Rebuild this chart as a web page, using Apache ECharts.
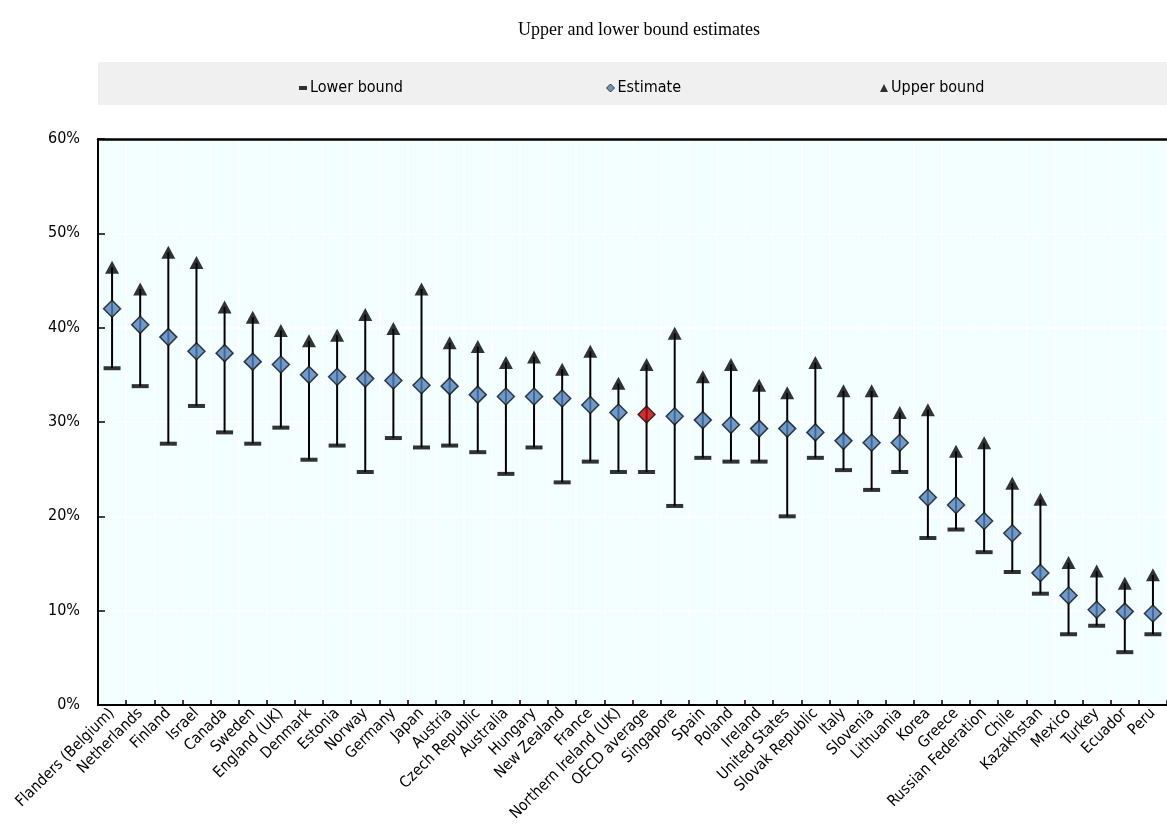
<!DOCTYPE html>
<html>
<head>
<meta charset="utf-8">
<script src="https://cdn.jsdelivr.net/npm/echarts@6/dist/echarts.min.js"></script>
<style>
html,body{margin:0;padding:0;background:#fff;}
#chart{width:1167px;height:832px;}
</style>
</head>
<body>
<div id="chart"></div>
<script>
const categories = ["Flanders (Belgium)","Netherlands","Finland","Israel","Canada","Sweden","England (UK)","Denmark","Estonia","Norway","Germany","Japan","Austria","Czech Republic","Australia","Hungary","New Zealand","France","Northern Ireland (UK)","OECD average","Singapore","Spain","Poland","Ireland","United States","Slovak Republic","Italy","Slovenia","Lithuania","Korea","Greece","Russian Federation","Chile","Kazakhstan","Mexico","Turkey","Ecuador","Peru"];
const estimate = [42.0,40.3,39.0,37.5,37.3,36.4,36.1,35.0,34.8,34.6,34.4,33.9,33.8,32.9,32.7,32.7,32.5,31.8,31.0,30.8,30.6,30.2,29.7,29.3,29.3,28.9,28.0,27.8,27.8,22.0,21.2,19.5,18.2,14.0,11.6,10.1,9.9,9.7];
const lowerBound = [35.7,33.8,27.7,31.7,28.9,27.7,29.4,26.0,27.5,24.7,28.3,27.3,27.5,26.8,24.5,27.3,23.6,25.8,24.7,24.7,21.1,26.2,25.8,25.8,20.0,26.2,24.9,22.8,24.7,17.7,18.6,16.2,14.1,11.8,7.5,8.4,5.6,7.5];
const upperBound = [46.4,44.1,48.0,46.9,42.2,41.1,39.7,38.6,39.2,41.4,39.9,44.1,38.4,38.0,36.3,36.9,35.6,37.5,34.1,36.1,39.4,34.8,36.1,33.9,33.1,36.3,33.3,33.3,31.0,31.3,26.9,27.8,23.5,21.8,15.1,14.2,12.9,13.8];
const highlight = "OECD average";

const FONT = "'Liberation Sans Narrow','Arial Narrow','DejaVu Sans Condensed',sans-serif";

const chart = echarts.init(document.getElementById('chart'), null, {renderer:'canvas'});

const estData = estimate.map((v,i)=>({
  value:[i,v],
  itemStyle: categories[i]===highlight ? {color:'#C00000'} : undefined
}));

const legendText = {fontFamily:FONT,fontSize:16,color:'#000',padding:[0,0,0,-2]};

const option = {
  animation:false,
  backgroundColor:'#fff',
  title:{
    text:'Upper and lower bound estimates',
    left:513, top:16,
    textStyle:{fontFamily:"'Liberation Serif','Times New Roman',serif",fontSize:18,fontWeight:'normal',color:'#000'}
  },
  graphic:[{
    type:'rect', left:98, top:62, z:-1,
    shape:{width:1069,height:43},
    style:{fill:'#F0F0F0'}
  }],
  legend:[
    {data:[{name:'Lower bound',icon:'rect',itemStyle:{color:'#000'}}],left:294,top:75,itemWidth:8,itemHeight:4,itemGap:4,textStyle:legendText},
    {data:[{name:'Estimate',icon:'diamond',itemStyle:{color:'#4F81BD',borderColor:'#111',borderWidth:1}}],left:601,top:75,itemWidth:8,itemHeight:8,textStyle:legendText},
    {data:[{name:'Upper bound',icon:'triangle',itemStyle:{color:'#000'}}],left:875,top:75,itemWidth:8,itemHeight:8,textStyle:legendText}
  ],
  grid:{
    left:98, top:139, width:1072, height:566,
    show:true, backgroundColor:'#F3FFFF', borderWidth:0
  },
  xAxis:[{
    type:'category', data:categories, boundaryGap:true,
    axisLine:{show:false},
    axisTick:{show:false,interval:0},
    axisLabel:{rotate:45,interval:0,fontFamily:FONT,fontSize:15.5,color:'#000',margin:6},
    splitLine:{show:true,interval:0,lineStyle:{color:'#FFFFFF',width:1.5}},
    z:0
  },{
    type:'category', data:categories, position:'bottom', boundaryGap:true,
    axisLine:{show:true,lineStyle:{color:'#000',width:2}},
    axisTick:{show:true,inside:true,interval:0,length:5,lineStyle:{color:'#000',width:1.5}},
    axisLabel:{show:false,interval:0}, splitLine:{show:false},
    z:10
  },{
    type:'category', data:categories, position:'top',
    axisLine:{show:true,lineStyle:{color:'#000',width:2.5}},
    axisTick:{show:false}, axisLabel:{show:false}, splitLine:{show:false},
    z:10
  }],
  yAxis:[{
    type:'value', min:0, max:60, interval:10,
    axisLine:{show:false},
    axisTick:{show:false},
    axisLabel:{formatter:v=>v+'%',fontFamily:FONT,fontSize:16,color:'#000',margin:18},
    splitLine:{show:true,lineStyle:{color:'#FFFFFF',width:1.5}},
    z:0
  },{
    type:'value', min:0, max:60, interval:10, position:'left',
    axisLine:{show:true,lineStyle:{color:'#000',width:2}},
    axisTick:{show:true,inside:true,length:7,lineStyle:{color:'#000',width:1.5}},
    axisLabel:{show:false}, splitLine:{show:false},
    z:10
  }],
  series:[
    {
      type:'custom', name:'range', silent:true, xAxisIndex:0, yAxisIndex:0,
      data: categories.map((c,i)=>[i,lowerBound[i],upperBound[i]]),
      renderItem:(params,api)=>{
        const p1 = api.coord([api.value(0),api.value(1)]);
        const p2 = api.coord([api.value(0),api.value(2)]);
        return {type:'line',shape:{x1:p1[0],y1:p1[1],x2:p2[0],y2:p2[1]},
                style:{stroke:'#000',lineWidth:2}};
      },
      z:1
    },
    {
      type:'scatter', name:'Lower bound', symbol:'rect', symbolSize:[17,4],
      xAxisIndex:0, yAxisIndex:0,
      data: lowerBound.map((v,i)=>[i,v]),
      itemStyle:{color:'#000'}, z:2
    },
    {
      type:'scatter', name:'Upper bound', symbol:'triangle', symbolSize:[14,13],
      xAxisIndex:0, yAxisIndex:0,
      data: upperBound.map((v,i)=>[i,v]),
      itemStyle:{color:'#000'}, z:2
    },
    {
      type:'scatter', name:'Estimate', symbol:'diamond', symbolSize:[17,17],
      xAxisIndex:0, yAxisIndex:0,
      data: estData,
      itemStyle:{color:'#4F81BD',borderColor:'#111',borderWidth:1.5}, z:3
    }
  ]
};
chart.setOption(option);
</script>
</body>
</html>
